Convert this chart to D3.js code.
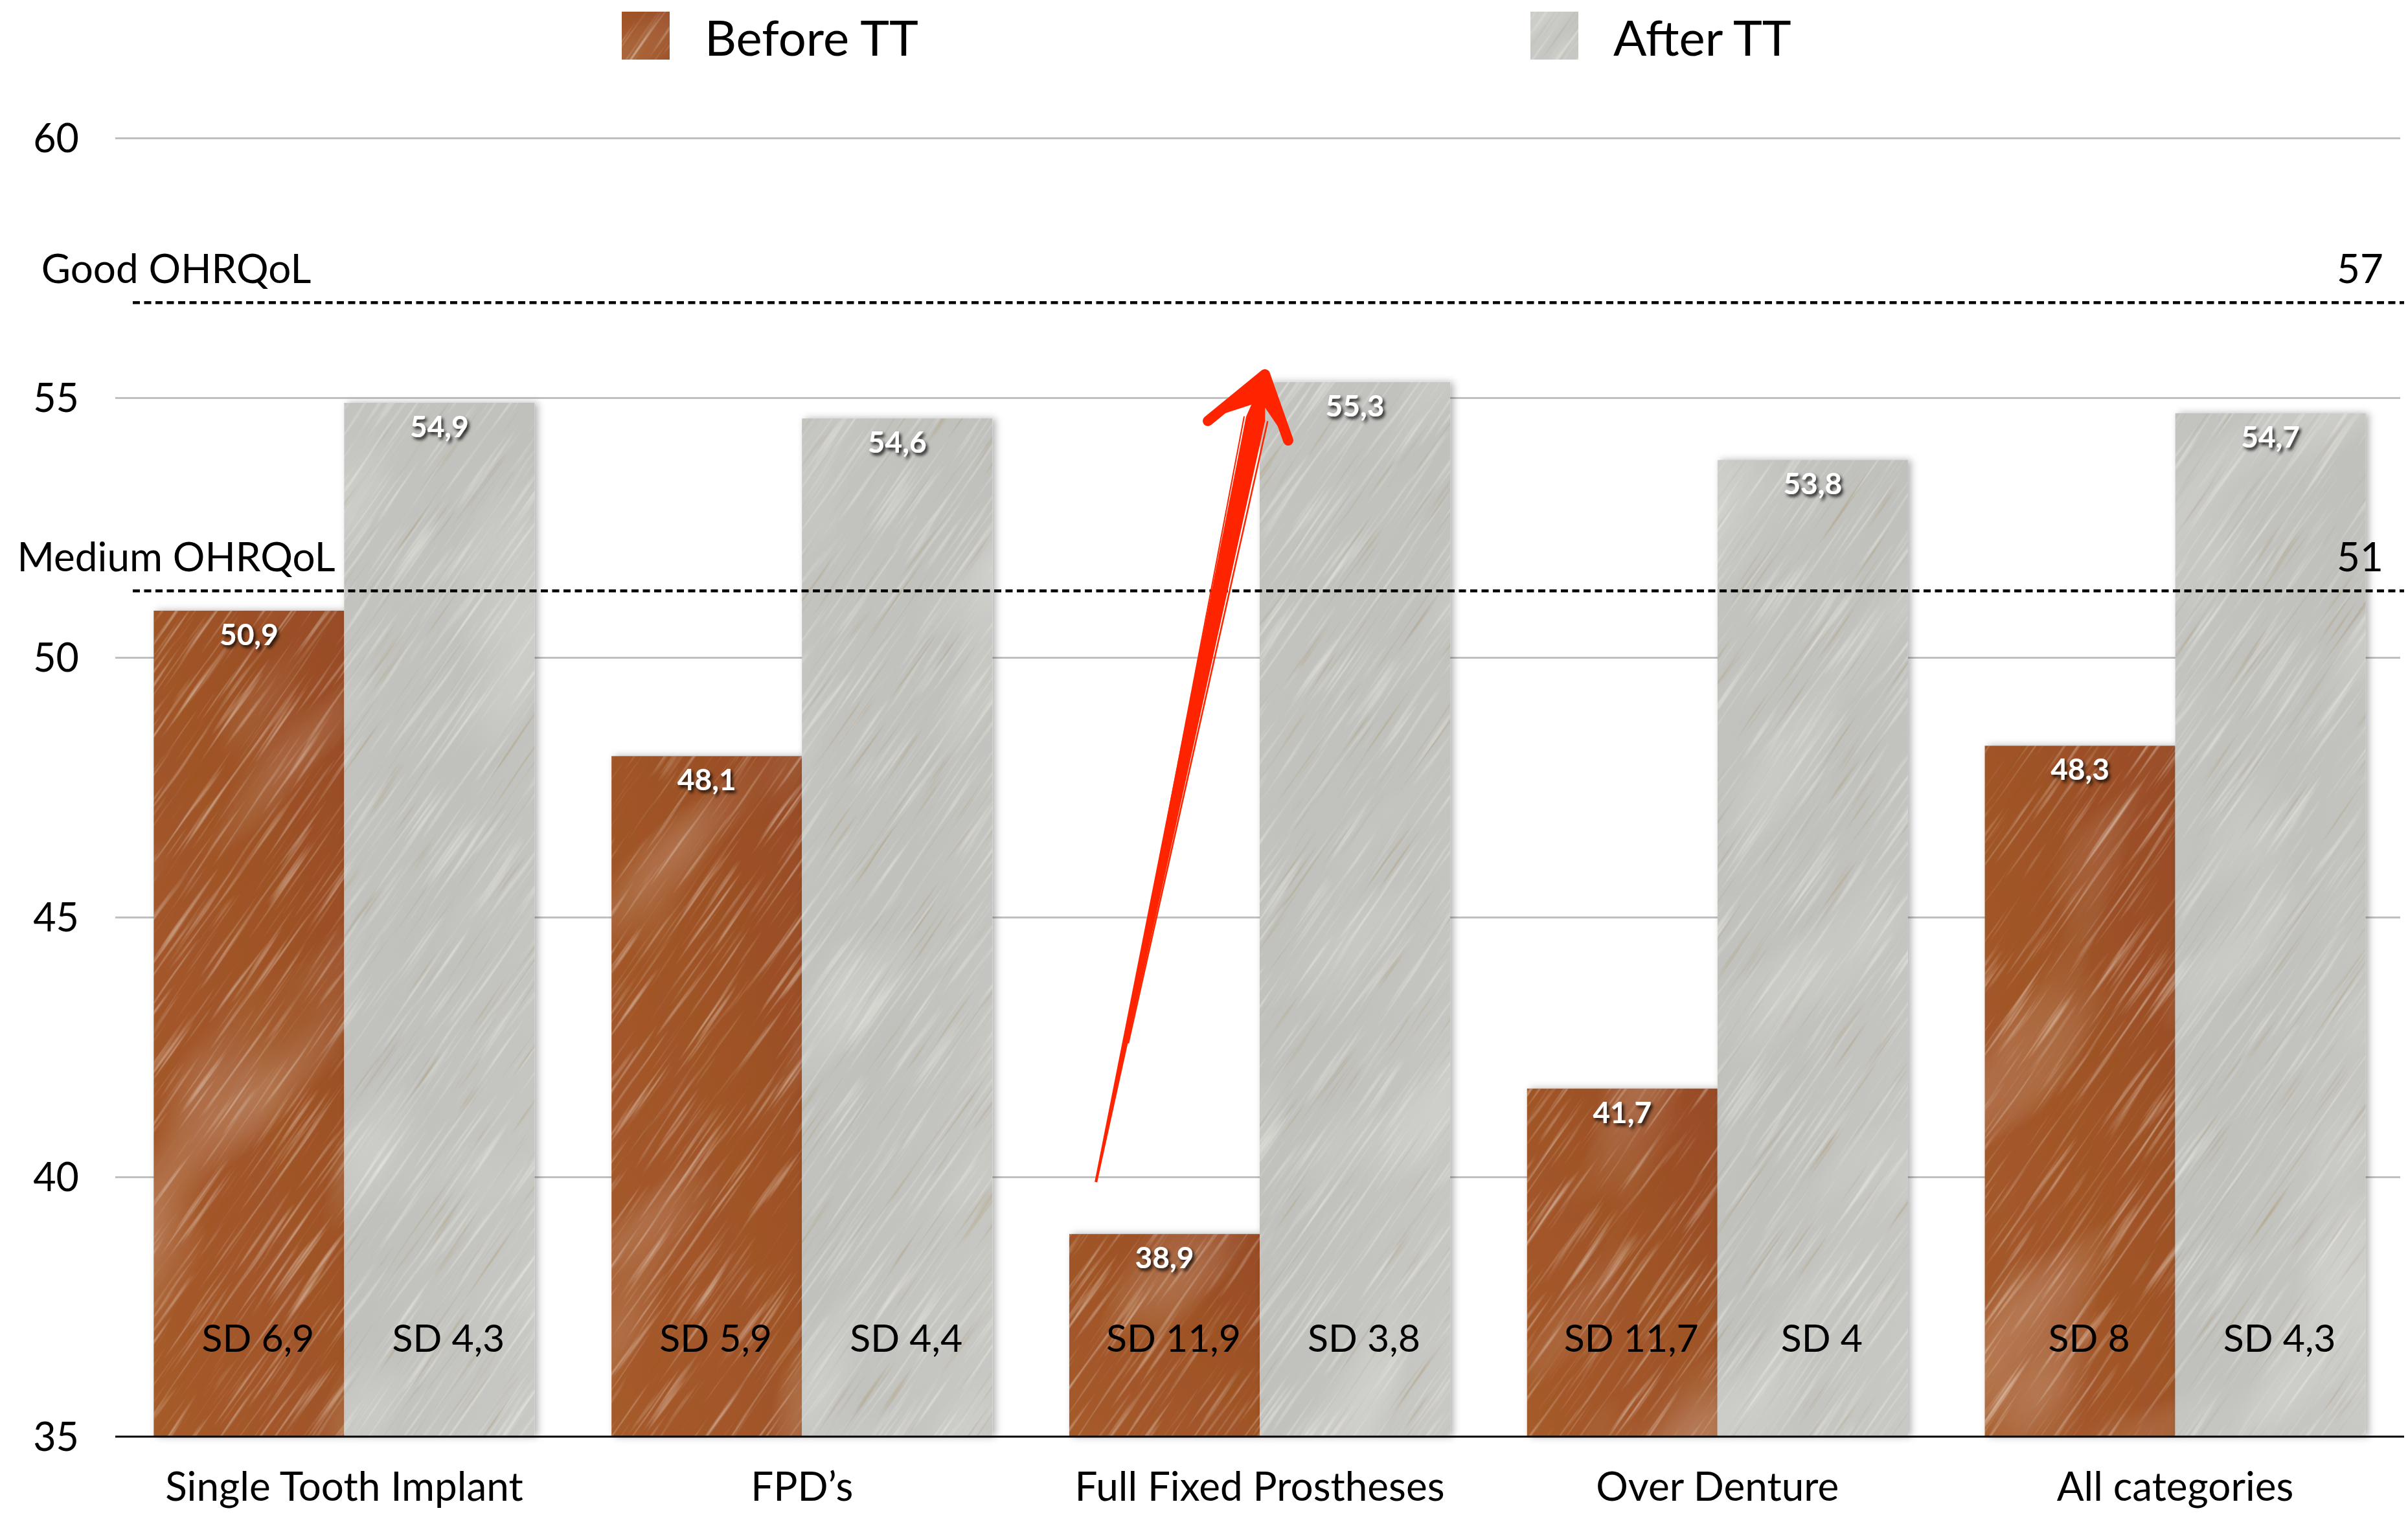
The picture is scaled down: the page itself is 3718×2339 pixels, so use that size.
<!DOCTYPE html>
<html>
<head>
<meta charset="utf-8">
<script src="https://cdn.jsdelivr.net/npm/d3@7"></script>
<style>
  html, body { margin: 0; padding: 0; background: #fff; }
  svg { display: block; }
  text { font-family: Lato, "Open Sans", sans-serif; fill: #000; }
</style>
</head>
<body>
<div id="chart"></div>
<script>
// data
var categories = ["Single Tooth Implant", "FPD\u2019s", "Full Fixed Prostheses", "Over Denture", "All categories"];
var series = ["Before TT", "After TT"];
var before_values = [50.9, 48.1, 38.9, 41.7, 48.3];
var after_values = [54.9, 54.6, 55.3, 53.8, 54.7];
var before_sd = [6.9, 5.9, 11.9, 11.7, 8];
var after_sd = [4.3, 4.4, 3.8, 4, 4.3];
var y_ticks = [35, 40, 45, 50, 55, 60];
var threshold_labels = ["Good OHRQoL", "Medium OHRQoL"];
var threshold_values = ["57", "51"];
var threshold_levels = [56.83, 51.28]; // where the dashed lines sit in the picture
var arrow_category = "Full Fixed Prostheses";
var arrow_from = 39.9;
var arrow_to = 55.45;

var width = 3718, height = 2339;
var margin = {left: 178, right: 3712, top: 213, bottom: 2218};

var comma = function(v) { return String(v).replace(".", ","); };
var format_val = function(v) { return d3.format(".1f")(v).replace(".", ","); };

var data = [];
categories.forEach(function(c, i) {
  data.push({cat: c, s: series[0], value: before_values[i], sd: before_sd[i]});
  data.push({cat: c, s: series[1], value: after_values[i], sd: after_sd[i]});
});

var svg = d3.select("#chart")
  .append("svg")
  .attr("width", width)
  .attr("height", height);

var defs = svg.append("defs");

// bar colours
var g1 = defs.append("linearGradient").attr("id", "brown").attr("x1", 0).attr("y1", 1).attr("x2", 1).attr("y2", 0);
g1.append("stop").attr("offset", 0).attr("stop-color", "#a65b2b");
g1.append("stop").attr("offset", 0.5).attr("stop-color", "#a05428");
g1.append("stop").attr("offset", 1).attr("stop-color", "#984c27");
var g2 = defs.append("linearGradient").attr("id", "grey").attr("x1", 0).attr("y1", 0).attr("x2", 1).attr("y2", 1);
g2.append("stop").attr("offset", 0).attr("stop-color", "#c3c4c0");
g2.append("stop").attr("offset", 0.5).attr("stop-color", "#c0c1bd");
g2.append("stop").attr("offset", 1).attr("stop-color", "#c8c8c4");

var shadow = defs.append("filter").attr("id", "barshadow")
  .attr("x", "-10%").attr("y", "-5%").attr("width", "125%").attr("height", "110%");
shadow.append("feDropShadow").attr("dx", 5).attr("dy", 0).attr("stdDeviation", 6)
  .attr("flood-color", "#000").attr("flood-opacity", 0.3);

var tshadow = defs.append("filter").attr("id", "textshadow")
  .attr("x", "-20%").attr("y", "-20%").attr("width", "150%").attr("height", "160%");
tshadow.append("feDropShadow").attr("dx", 3).attr("dy", 4).attr("stdDeviation", 2.5)
  .attr("flood-color", "#000").attr("flood-opacity", 0.85);

// scratched metal texture (soft light streaks + patches)
var scratch = defs.append("filter").attr("id", "scratch")
  .attr("x", 0).attr("y", 0).attr("width", 1).attr("height", 1);
scratch.append("feTurbulence").attr("type", "fractalNoise").attr("baseFrequency", "0.006 0.16")
  .attr("numOctaves", 2).attr("seed", 4).attr("result", "fine");
scratch.append("feColorMatrix").attr("in", "fine").attr("type", "matrix")
  .attr("values", "0 0 0 0 1  0 0 0 0 0.97  0 0 0 0 0.9  1.4 0 0 0 -0.78").attr("result", "light");
scratch.append("feColorMatrix").attr("in", "fine").attr("type", "matrix")
  .attr("values", "0 0 0 0 0.25  0 0 0 0 0.1  0 0 0 0 0  0 0 0.8 0 -0.5").attr("result", "dark");
scratch.append("feTurbulence").attr("type", "fractalNoise").attr("baseFrequency", "0.0025 0.006")
  .attr("numOctaves", 2).attr("seed", 11).attr("result", "coarse");
scratch.append("feColorMatrix").attr("in", "coarse").attr("type", "matrix")
  .attr("values", "0 0 0 0 1  0 0 0 0 1  0 0 0 0 0.95  0.8 0 0 0 -0.44").attr("result", "glow");
var merge = scratch.append("feMerge");
merge.append("feMergeNode").attr("in", "glow");
merge.append("feMergeNode").attr("in", "dark");
merge.append("feMergeNode").attr("in", "light");

// scales
var yScale = d3.scaleLinear().domain([35, 60]).range([margin.bottom, margin.top]);
var xScale = d3.scaleBand().domain(categories).range([margin.left, margin.right])
  .paddingInner(0.168).paddingOuter(0.084);
var xSub = d3.scaleBand().domain(series).range([0, xScale.bandwidth()]);
var fills = {"Before TT": "url(#brown)", "After TT": "url(#grey)"};

// grid
var grid = svg.append("g")
  .attr("class", "grid")
  .attr("transform", "translate(" + margin.left + ",0)")
  .call(d3.axisRight(yScale).tickValues(y_ticks.slice(1)).tickSize(3706 - margin.left).tickFormat(""));
grid.select(".domain").remove();
grid.selectAll("line").attr("stroke", "#c0c0c0").attr("stroke-width", 3);

// y axis labels
var yAxis = svg.append("g")
  .attr("transform", "translate(122,0)")
  .call(d3.axisLeft(yScale).tickValues(y_ticks).tickSize(0).tickPadding(0));
yAxis.select(".domain").remove();
yAxis.selectAll("text").attr("font-size", 61).attr("font-family", "Lato").attr("fill", "#000").attr("dy", "0.36em");

// bars
svg.append("g").selectAll("rect")
  .data(data)
  .enter()
  .append("rect")
  .attr("x", function(d) { return xScale(d.cat) + xSub(d.s); })
  .attr("y", function(d) { return yScale(d.value); })
  .attr("width", xSub.bandwidth())
  .attr("height", function(d) { return yScale(35) - yScale(d.value); })
  .attr("fill", function(d) { return fills[d.s]; })
  .attr("filter", "url(#barshadow)");

// legend
var legend = svg.append("g").selectAll("g")
  .data(series)
  .enter()
  .append("g")
  .attr("transform", function(d, i) { return "translate(" + [960, 2363][i] + ",18)"; });
legend.append("rect")
  .attr("width", 74).attr("height", 74)
  .attr("fill", function(d) { return fills[d]; });
legend.append("text")
  .attr("x", 128).attr("y", 68)
  .attr("font-size", 76)
  .text(function(d) { return d; });

// texture over bars and swatches
var clip = defs.append("clipPath").attr("id", "barclip");
clip.selectAll("rect.b")
  .data(data)
  .enter()
  .append("rect")
  .attr("x", function(d) { return xScale(d.cat) + xSub(d.s); })
  .attr("y", function(d) { return yScale(d.value); })
  .attr("width", xSub.bandwidth())
  .attr("height", function(d) { return yScale(35) - yScale(d.value); });
clip.selectAll("rect.l")
  .data(series)
  .enter()
  .append("rect")
  .attr("x", function(d, i) { return [960, 2363][i]; })
  .attr("y", 18).attr("width", 74).attr("height", 74);

svg.append("g")
  .attr("clip-path", "url(#barclip)")
  .append("g")
  .attr("transform", "rotate(-55," + width / 2 + "," + height / 2 + ")")
  .append("rect")
  .attr("x", width / 2 - 2000).attr("y", height / 2 - 2250)
  .attr("width", 4000).attr("height", 4500)
  .attr("fill", "#000")
  .attr("filter", "url(#scratch)");

// baseline
svg.append("line")
  .attr("x1", margin.left).attr("x2", margin.right)
  .attr("y1", yScale(35)).attr("y2", yScale(35))
  .attr("stroke", "#000").attr("stroke-width", 3);

// threshold lines
var th = svg.append("g").selectAll("g")
  .data(threshold_levels)
  .enter()
  .append("g");
th.append("line")
  .attr("x1", 205).attr("x2", margin.right)
  .attr("y1", function(d) { return yScale(d); })
  .attr("y2", function(d) { return yScale(d); })
  .attr("stroke", "#000").attr("stroke-width", 4.5)
  .attr("stroke-dasharray", "11,6.5");
th.append("text")
  .attr("x", 272)
  .attr("y", function(d) { return yScale(d) - 30; })
  .attr("text-anchor", "middle")
  .attr("font-size", 62)
  .text(function(d, i) { return threshold_labels[i]; });
th.append("text")
  .attr("x", 3680)
  .attr("y", function(d) { return yScale(d) - 30; })
  .attr("text-anchor", "end")
  .attr("font-size", 62)
  .text(function(d, i) { return threshold_values[i]; });

// value labels
svg.append("g").selectAll("text")
  .data(data)
  .enter()
  .append("text")
  .attr("x", function(d) { return xScale(d.cat) + xSub(d.s) + xSub.bandwidth() / 2; })
  .attr("y", function(d) { return yScale(d.value) + 53; })
  .attr("text-anchor", "middle")
  .attr("font-size", 46)
  .attr("font-weight", 700)
  .style("fill", "#fff")
  .attr("filter", "url(#textshadow)")
  .text(function(d) { return format_val(d.value); });

// SD labels
svg.append("g").selectAll("text")
  .data(data)
  .enter()
  .append("text")
  .attr("x", function(d) { return xScale(d.cat) + xSub(d.s) + xSub.bandwidth() / 2 + 14; })
  .attr("y", 2087)
  .attr("text-anchor", "middle")
  .attr("font-size", 59)
  .text(function(d) { return "SD " + comma(d.sd); });

// category labels
svg.append("g").selectAll("text")
  .data(categories)
  .enter()
  .append("text")
  .attr("x", function(d) { return xScale(d) + xScale.bandwidth() / 2; })
  .attr("y", 2317)
  .attr("text-anchor", "middle")
  .attr("font-size", 62)
  .text(function(d) { return d; });

// red hand-drawn arrow
var sx = xScale(arrow_category) + 0.07 * xScale.bandwidth();
var sy = yScale(arrow_from);
var tx = xScale(arrow_category) + xSub("After TT") + 8;
var ty = yScale(arrow_to);
var len = Math.hypot(tx - sx, ty - sy);
var ux = (tx - sx) / len, uy = (ty - sy) / len;
var nx = -uy, ny = ux;
var ex = tx - ux * 70, ey = ty - uy * 70;
var arrow = svg.append("g").attr("fill", "#ff2400").attr("stroke", "#ff2400");
arrow.append("path")
  .attr("stroke", "none")
  .attr("d", "M" + (sx - nx * 2) + "," + (sy - ny * 2) +
    "L" + (ex - nx * 15) + "," + (ey - ny * 15) +
    "L" + (tx) + "," + (ty) +
    "L" + (ex + nx * 15) + "," + (ey + ny * 15) +
    "L" + (sx + nx * 2) + "," + (sy + ny * 2) + "Z");
arrow.append("path")
  .attr("fill", "none").attr("stroke-width", 16).attr("stroke-linecap", "round").attr("stroke-linejoin", "round")
  .attr("d", "M" + (tx - 88) + "," + (ty + 72) + "L" + tx + "," + ty + "L" + (tx + 36) + "," + (ty + 102));
arrow.append("path")
  .attr("stroke", "none")
  .attr("d", "M" + (tx - 80) + "," + (ty + 66) + "L" + tx + "," + ty + "L" + (tx + 30) + "," + (ty + 95) +
    "L" + (tx - 6) + "," + (ty + 42) + "Z");
arrow.append("path")
  .attr("fill", "none").attr("stroke-width", 2.5)
  .attr("d", "M" + (sx + nx * 5 + ux * 220) + "," + (sy + ny * 5 + uy * 220) +
    "L" + (ex + nx * 19) + "," + (ey + ny * 19));
arrow.append("path")
  .attr("fill", "none").attr("stroke-width", 2)
  .attr("d", "M" + (sx - nx * 4 + ux * 420) + "," + (sy - ny * 4 + uy * 420) +
    "L" + (ex - nx * 18) + "," + (ey - ny * 18));
</script>
</body>
</html>
